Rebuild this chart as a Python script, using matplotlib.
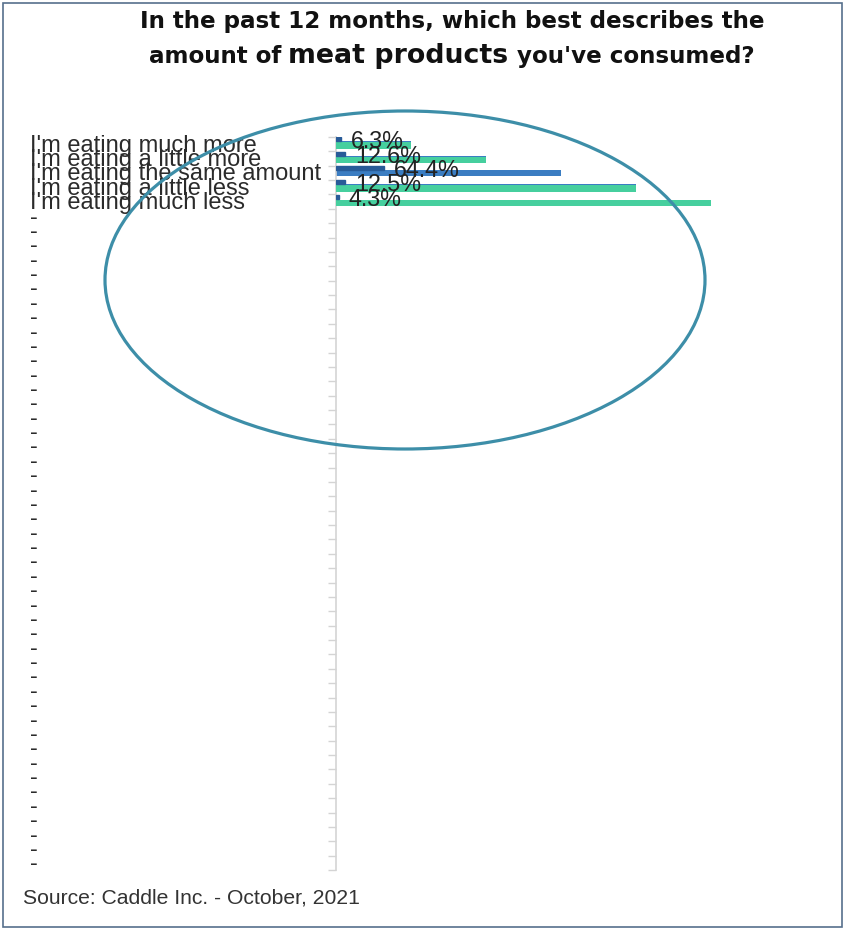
import numpy as np
import matplotlib
matplotlib.use("Agg")
import matplotlib.pyplot as plt
from matplotlib.patches import Ellipse, Rectangle
from matplotlib.transforms import blended_transform_factory

# ---- data -------------------------------------------------------------
categories = [
    "I'm eating much more",
    "I'm eating a little more",
    "I'm eating the same amount",
    "I'm eating a little less",
    "I'm eating much less",
]
shares = [6.3, 12.6, 64.4, 12.5, 4.3]          # percent of respondents
index_blue = [1, 2, 3, 4, 0]                    # blue series
index_green = [1, 2, 0, 4, 5]                   # green series
n_blank_rows = 46                               # empty rows shown as "-"
filler_label = "-"

title_line1 = "In the past 12 months, which best describes the"
title_parts = ["amount of", "meat products", "you've consumed?"]
source_text = "Source: Caddle Inc. - October, 2021"

# ---- style ------------------------------------------------------------
BODY = ["Liberation Sans", "DejaVu Sans"]
C_DARK = "#285b98"
C_BLUE = "#3b7dc2"
C_GREEN = "#46cf9e"
C_AXIS = "#d4d4d4"
C_TEXT = "#222222"
C_LABEL = "#2b2b2b"
C_RING = "#3d8ea8"

W, H, DPI = 845, 930, 100
fig = plt.figure(figsize=(W / DPI, H / DPI), dpi=DPI)
fig.patch.set_facecolor("white")

ax_left, ax_right, ax_top, ax_bottom = 336, 786, 137, 870
ax = fig.add_axes([ax_left / W, 1 - ax_bottom / H,
                   (ax_right - ax_left) / W, (ax_bottom - ax_top) / H])

n_rows = len(categories) + n_blank_rows
rows = np.arange(len(categories))

ax.barh(rows, index_blue, height=0.42, color=C_BLUE, zorder=2)
ax.barh(rows + 0.09, index_green, height=0.46, color=C_GREEN, zorder=3)
dark_vals = np.array(shares) / 100.0
ax.barh(rows - 0.35, dark_vals, height=0.28, color=C_DARK,
        edgecolor=C_DARK, linewidth=1.0, zorder=4)

for i, (v, s) in enumerate(zip(dark_vals, shares)):
    ax.annotate(f"{s}%", xy=(v, i + 0.28), xytext=(7.0, 0),
                textcoords="offset points", ha="left", va="baseline",
                fontsize=16.8, family=BODY, color=C_TEXT, zorder=5)

ax.set_xlim(0, 6)
ax.set_ylim(n_rows - 0.5, -0.5)
ax.set_yticks(np.arange(-0.5, n_rows, 1.0))
ax.tick_params(axis="y", direction="out", length=6, width=1,
               color=C_AXIS, labelleft=False)
ax.set_xticks([])
for side in ("top", "right", "bottom"):
    ax.spines[side].set_visible(False)
ax.spines["left"].set_color(C_AXIS)
ax.spines["left"].set_linewidth(1.2)
ax.set_facecolor("none")

# row labels, left aligned near the figure edge
lab_tr = blended_transform_factory(fig.transFigure, ax.transData)
all_labels = categories + [filler_label] * n_blank_rows
for i, lab in enumerate(all_labels):
    ax.text(30 / W, i + 0.52, lab, transform=lab_tr, ha="left",
            va="baseline", fontsize=17, family=BODY, color=C_LABEL,
            clip_on=False)

# ---- title ------------------------------------------------------------
TITLE = ["DejaVu Sans"]
fig.text(452 / W, 1 - 28 / H, title_line1, ha="center", va="baseline",
         fontsize=16.6, fontweight="bold", family=TITLE, color="#111111")

sizes = [16.6, 19.3, 16.6]
gaps = [7, 9]
renderer = fig.canvas.get_renderer()
parts = []
for txt, fs in zip(title_parts, sizes):
    t = fig.text(0, 1 - 63 / H, txt, ha="left", va="baseline",
                 fontsize=fs, fontweight="bold", family=TITLE,
                 color="#111111")
    parts.append(t)
widths = [p.get_window_extent(renderer).width for p in parts]
total = sum(widths) + sum(gaps)
x = 452 - total / 2
for p, w, g in zip(parts, widths, gaps + [0]):
    p.set_x(x / W)
    x += w + g

fig.text(23 / W, 1 - 903 / H, source_text, ha="left", va="baseline",
         fontsize=15.2, family=BODY, color="#333333")

# highlight ring
fig.patches.append(Ellipse((405 / W, 1 - 280 / H), 600 / W, 338 / H,
                           transform=fig.transFigure, fill=False,
                           edgecolor=C_RING, linewidth=2.3, zorder=10))
# outer frame
fig.patches.append(Rectangle((3 / W, 3 / H), 839 / W, 924 / H,
                             transform=fig.transFigure, fill=False,
                             edgecolor="#56708c", linewidth=1.2, zorder=11))

fig.savefig("out.png", dpi=DPI, facecolor="white")
